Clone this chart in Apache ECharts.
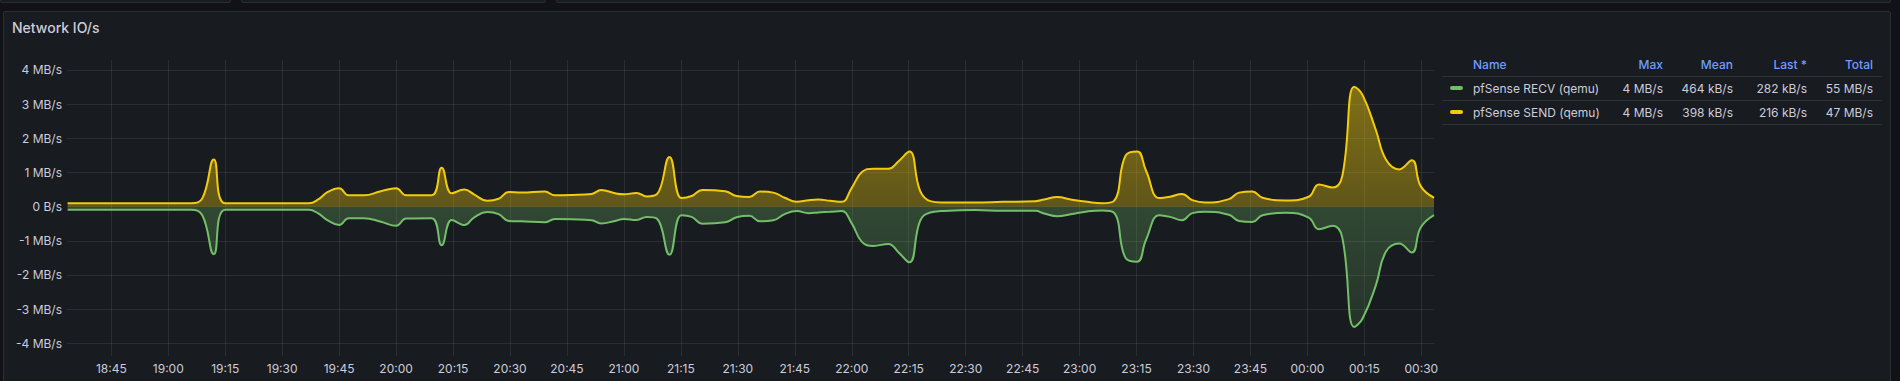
<!DOCTYPE html>
<html><head><meta charset="utf-8">
<script src="https://cdn.jsdelivr.net/npm/echarts@6/dist/echarts.min.js"></script>
<style>
html,body{margin:0;padding:0;background:#111217;overflow:hidden;}
.box{position:absolute;background:#181b1f;border:1px solid #2a2d33;border-radius:2px;box-sizing:border-box;}
#c{position:absolute;left:0;top:0;width:1900px;height:381px;}
</style>
</head><body>
<div class="box" style="left:0;top:-20px;width:231px;height:23px"></div>
<div class="box" style="left:241px;top:-20px;width:305px;height:23px"></div>
<div class="box" style="left:556px;top:-20px;width:1335px;height:23px"></div>
<div class="box" style="left:3px;top:11px;width:1888px;height:400px"></div>
<div id="c"></div>
<script>
// ---- data (MB/s) ----
const times = [
 '18:33:30','19:06:00','19:09:00','19:12:00','19:15:00','19:37:00','19:39:30','19:42:00','19:45:00','19:47:30',
 '19:51:30','19:56:00','20:00:00','20:02:40','20:09:20','20:12:00','20:14:40','20:18:00','20:20:30','20:24:00',
 '20:27:00','20:29:40','20:33:00','20:39:10','20:41:50','20:46:10','20:51:30','20:54:00','20:57:40','21:00:00',
 '21:03:20','21:06:00','21:08:40','21:12:00','21:15:10','21:17:50','21:20:40','21:26:40','21:29:40','21:33:00',
 '21:35:50','21:39:20','21:42:20','21:45:30','21:48:40','21:51:10','21:54:20','21:57:20','22:00:00','22:02:40',
 '22:05:40','22:09:40','22:12:20','22:15:10','22:18:00','22:20:40','22:23:40','22:32:30','22:39:40','22:48:20',
 '22:50:40','22:54:10','22:57:40','23:02:00','23:06:00','23:09:00','23:12:10','23:15:10','23:17:30','23:21:00',
 '23:23:50','23:27:00','23:29:40','23:33:10','23:39:20','23:42:00','23:45:30','23:48:10','23:54:20','00:00:20',
 '00:03:00','00:06:40','00:09:10','00:12:20','00:14:30','00:18:00','00:20:40','00:24:10','00:27:30','00:29:50',
 '00:33:20'
];
const sendMBs = [
 0.10,0.10,0.25,1.38,0.10,0.10,0.21,0.43,0.54,0.33,
 0.33,0.45,0.54,0.33,0.33,1.14,0.39,0.50,0.36,0.17,
 0.23,0.43,0.41,0.44,0.33,0.34,0.37,0.49,0.39,0.36,
 0.40,0.30,0.36,1.45,0.25,0.31,0.49,0.45,0.31,0.28,
 0.44,0.41,0.26,0.14,0.19,0.21,0.17,0.14,0.55,1.01,
 1.11,1.11,1.33,1.61,0.46,0.16,0.12,0.12,0.14,0.16,
 0.21,0.28,0.21,0.14,0.10,0.16,1.50,1.61,1.05,0.25,
 0.29,0.37,0.19,0.12,0.22,0.41,0.44,0.26,0.18,0.29,
 0.65,0.56,0.89,3.51,3.27,2.25,1.38,1.09,1.36,0.60,
 0.26
];
const recvMBs = [
 -0.09,-0.09,-0.26,-1.39,-0.09,-0.09,-0.20,-0.40,-0.54,-0.34,
 -0.34,-0.44,-0.56,-0.35,-0.34,-1.13,-0.39,-0.54,-0.32,-0.16,
 -0.22,-0.42,-0.43,-0.46,-0.36,-0.37,-0.40,-0.49,-0.42,-0.36,
 -0.39,-0.30,-0.35,-1.41,-0.25,-0.30,-0.50,-0.46,-0.31,-0.27,
 -0.43,-0.40,-0.22,-0.13,-0.19,-0.17,-0.15,-0.13,-0.49,-1.03,
 -1.15,-1.09,-1.34,-1.63,-0.42,-0.17,-0.13,-0.10,-0.12,-0.12,
 -0.20,-0.28,-0.22,-0.14,-0.11,-0.17,-1.51,-1.61,-0.97,-0.25,
 -0.30,-0.40,-0.19,-0.15,-0.24,-0.42,-0.45,-0.25,-0.18,-0.32,
 -0.66,-0.56,-0.90,-3.52,-3.28,-2.31,-1.32,-1.08,-1.34,-0.61,
 -0.25
];
const xTickLabels = ['18:45','19:00','19:15','19:30','19:45','20:00','20:15','20:30','20:45','21:00','21:15','21:30',
 '21:45','22:00','22:15','22:30','22:45','23:00','23:15','23:30','23:45','00:00','00:15','00:30'];
const yTicks = [-4,-3,-2,-1,0,1,2,3,4];
const xRange = ['18:33:20','00:33:20'];
const legendHeader = ['Name','Max','Mean','Last *','Total'];
const legendRows = [
 {name:'pfSense RECV (qemu)', color:'#73BF69', vals:['4 MB/s','464 kB/s','282 kB/s','55 MB/s']},
 {name:'pfSense SEND (qemu)', color:'#F2CC0C', vals:['4 MB/s','398 kB/s','216 kB/s','47 MB/s']}
];
const title = 'Network IO/s';

// ---- helpers ----
function toMin(s){const p=s.split(':').map(Number);let h=p[0];if(h<12)h+=24;return h*60+p[1]+(p[2]||0)/60;}
function fmtMin(v){let m=Math.round(v);let h=Math.floor(m/60)%24;m=m%60;return String(h).padStart(2,'0')+':'+String(m).padStart(2,'0');}
const GT=60, GB=356;
function grad(r,g,b,a0,a1){return new echarts.graphic.LinearGradient(0,GT,0,GB,[{offset:0,color:`rgba(${r},${g},${b},${a0})`},{offset:1,color:`rgba(${r},${g},${b},${a1})`}],true);}

const FONT='Inter, "Noto Sans", sans-serif';
const TXT='#ccccdc';
const chart = echarts.init(document.getElementById('c'), null, {renderer:'svg', width:1900, height:381});

const graphic = [];
graphic.push({type:'text', left:12, top:20, style:{text:title, fill:TXT, font:'500 14px '+FONT}});
const colRight=[null,1663,1733,1807,1873];
const nameX=1473, headY=64, rowY=[88,112];
legendHeader.forEach((h,i)=>{
  graphic.push({type:'text', x: i===0?nameX:colRight[i], y:headY, style:{text:h, fill:'#6e9fff', font:'500 12px '+FONT, textAlign:i===0?'left':'right', textVerticalAlign:'middle'}});
});
[76,100,124].forEach(y=>graphic.push({type:'line', shape:{x1:1442,y1:y+0.5,x2:1882,y2:y+0.5}, style:{stroke:'rgba(204,204,220,0.12)', lineWidth:1}}));
legendRows.forEach((r,ri)=>{
  const y=rowY[ri];
  graphic.push({type:'rect', shape:{x:1450,y:y-2,width:13,height:4,r:2}, style:{fill:r.color}});
  graphic.push({type:'text', x:nameX, y:y, style:{text:r.name, fill:TXT, font:'12px '+FONT, textAlign:'left', textVerticalAlign:'middle'}});
  r.vals.forEach((v,i)=>graphic.push({type:'text', x:colRight[i+1], y:y, style:{text:v, fill:TXT, font:'12px '+FONT, textAlign:'right', textVerticalAlign:'middle'}}));
});

function mk(name,vals,color,rgb,a0,a1){
  return {name, type:'line', data: times.map((t,i)=>[toMin(t),vals[i]]), smooth:0.45, showSymbol:false, symbol:'none',
    lineStyle:{color, width:2}, itemStyle:{color}, areaStyle:{color:grad(...rgb,a0,a1), origin:0}, animation:false};
}

chart.setOption({
  backgroundColor:'transparent',
  animation:false,
  grid:{left:67, top:GT, width:1367, height:GB-GT, containLabel:false},
  xAxis:{type:'value', min:toMin(xRange[0]), max:toMin(xRange[1]),
    axisLine:{show:false}, axisTick:{show:false, customValues:xTickLabels.map(toMin)},
    axisLabel:{customValues:xTickLabels.map(toMin), formatter:v=>fmtMin(v), color:TXT, fontSize:12, fontFamily:FONT, margin:6},
    splitLine:{show:true, lineStyle:{color:'rgba(204,204,220,0.1)', width:1}}},
  yAxis:{type:'value', min:-4.37, max:4.29,
    axisLine:{show:false}, axisTick:{show:false, customValues:yTicks},
    axisLabel:{customValues:yTicks, formatter:v=>v===0?'0 B/s':v+' MB/s', color:TXT, fontSize:12, fontFamily:FONT, margin:5},
    splitLine:{show:true, lineStyle:{color:'rgba(204,204,220,0.1)', width:1}}},
  graphic,
  series:[mk('pfSense RECV (qemu)',recvMBs,'#73BF69',[115,191,105],0.62,0.16), mk('pfSense SEND (qemu)',sendMBs,'#F2CC0C',[242,204,12],0.72,0.22)]
});
</script>
</body></html>
